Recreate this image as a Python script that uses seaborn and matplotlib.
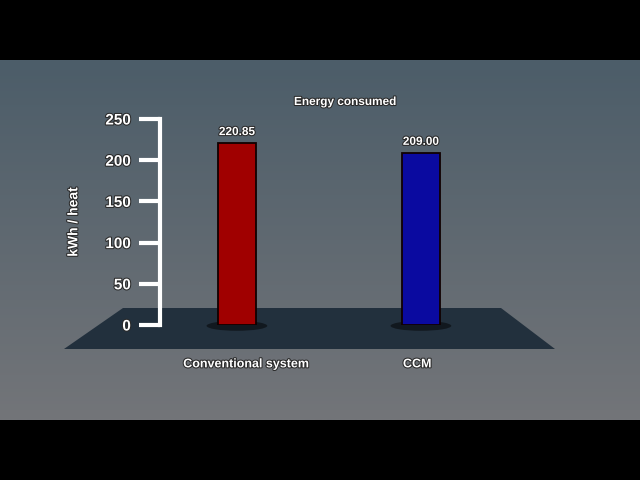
import numpy as np
import pandas as pd
import matplotlib
matplotlib.use("Agg")
import matplotlib.pyplot as plt
import matplotlib.patheffects as pe
from matplotlib.patches import Polygon, Ellipse
import seaborn as sns

# datos
sistemas = ["Conventional system", "CCM"]
energia = [220.85, 209.00]
etiquetas = ["220.85", "209.00"]
colores = ["#a00000", "#0a0aa0"]
ticks_y = [0, 50, 100, 150, 200, 250]

datos = pd.DataFrame({"sistema": sistemas, "energia": energia})

sns.set_theme(style="white")
plt.rcParams["font.family"] = ["Liberation Sans", "DejaVu Sans"]

fig = plt.figure(figsize=(6.4, 4.8), dpi=100)
fig.patch.set_facecolor("black")

# fondo con degradado (en pixeles)
fondo = fig.add_axes([0, 0, 1, 1])
fondo.set_xlim(0, 640)
fondo.set_ylim(480, 0)
fondo.axis("off")
top = np.array([0x4c, 0x5d, 0x69]) / 255
bot = np.array([0x73, 0x75, 0x79]) / 255
t = np.linspace(0, 1, 256)[:, None]
grad = (top * (1 - t) + bot * t)[:, None, :]
fondo.imshow(grad, extent=[0, 640, 420, 60], aspect="auto", zorder=0)
fondo.add_patch(Polygon([[123, 308], [501, 308], [555, 349], [64, 349]],
                        closed=True, facecolor="#22303d", edgecolor="none", zorder=1))

ax = fig.add_axes([0.25, 0.3229, 0.55, 0.4292])
ax.patch.set_alpha(0)

sns.barplot(data=datos, x="sistema", y="energia", hue="sistema",
            palette=colores, saturation=1, width=0.21, legend=False, ax=ax,
            edgecolor="#100000", linewidth=1.3, zorder=3)

# sombras bajo las barras
for i in range(len(sistemas)):
    ax.add_patch(Ellipse((i, -1), 0.33, 12, facecolor="#10161c", alpha=0.9,
                         edgecolor="none", clip_on=False, zorder=2))

sombra = [pe.withStroke(linewidth=1.5, foreground="#2a2a2a")]
for i, (v, txt) in enumerate(zip(energia, etiquetas)):
    ax.text(i, v + 6, txt, ha="center", va="bottom", color="white",
            fontsize=8.5, fontweight="bold", path_effects=sombra)

ax.set_xlim(-0.418, 1.495)
ax.set_ylim(0, 250)
ax.set_yticks(ticks_y)
ax.set_yticklabels([str(v) for v in ticks_y], fontsize=11, fontweight="bold",
                   color="white")
for lab in ax.get_yticklabels():
    lab.set_path_effects(sombra)
ax.tick_params(axis="y", length=15, width=3, color="white", pad=6, left=True)
ax.tick_params(axis="x", length=0, pad=24)
ax.set_xticks([0.05, 0.98])
ax.set_xticklabels(sistemas, fontsize=9, fontweight="bold", color="white")
for lab in ax.get_xticklabels():
    lab.set_path_effects(sombra)

sns.despine(ax=ax, top=True, right=True, bottom=True)
ax.spines["left"].set_color("white")
ax.spines["left"].set_linewidth(3)
ax.set_xlabel("")
ax.set_ylabel("kWh / heat", color="white", fontsize=10, fontweight="bold",
              labelpad=18, path_effects=sombra)

fig.text(345 / 640, 1 - 102 / 480, "Energy consumed", ha="center", va="center",
         color="white", fontsize=8.5, fontweight="bold", path_effects=sombra)

plt.savefig("out.png", dpi=100, facecolor=fig.get_facecolor())
